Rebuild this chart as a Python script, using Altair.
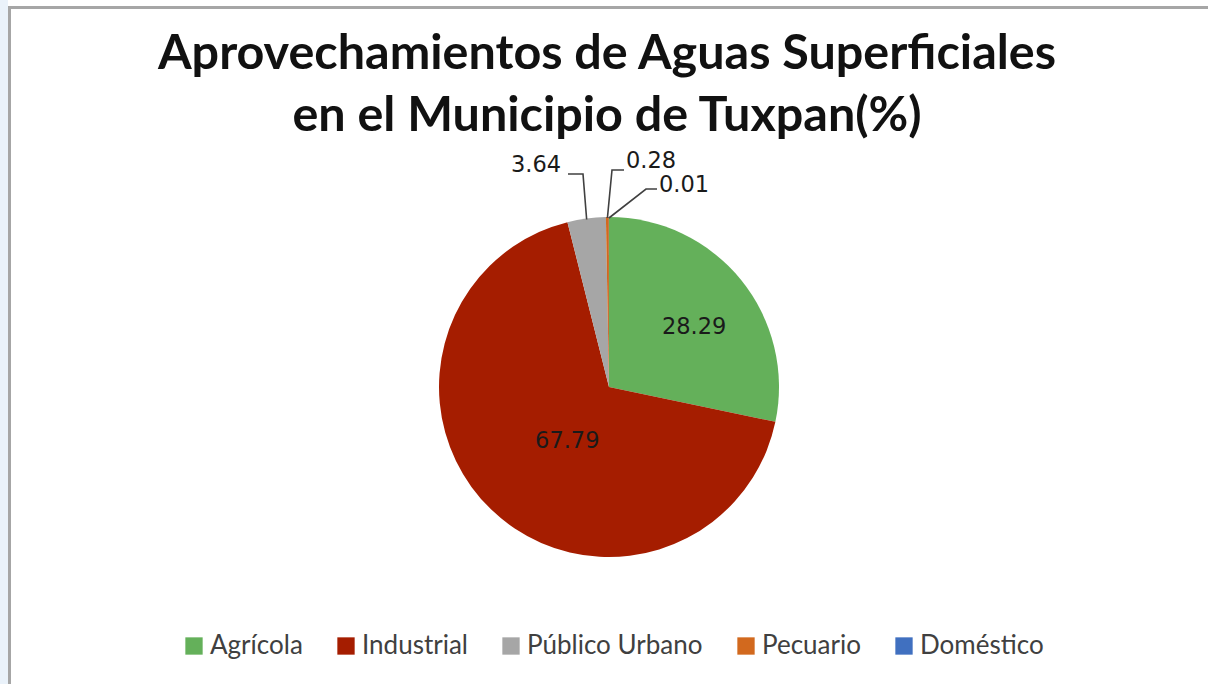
import math
import altair as alt
import pandas as pd

# ---- data ----
categories = ["Agrícola", "Industrial", "Público Urbano", "Pecuario", "Doméstico"]
values = [28.29, 67.79, 3.64, 0.28, 0.01]
labels = ["28.29", "67.79", "3.64", "0.28", "0.01"]
colors = ["#64b05a", "#a51d00", "#a6a6a6", "#d2691e", "#4070c0"]

title_lines = ["Aprovechamientos de Aguas Superficiales", "en el Municipio de Tuxpan(%)"]

# ---- layout / style ----
W, H = 1208, 684
CX, CY, R = 609, 387, 170
inner_label_r = {0: 104, 1: 68}          # radial distance of in-slice labels
inner_label_shift = {0: 4.0, 1: -6.0}     # angular shift (deg) of in-slice labels
leader_elbow = {2: (583, 174), 3: (612, 170), 4: (646, 189)}
leader_end = {2: (568, 174), 3: (624, 170), 4: (657, 189)}
outer_label_pos = {2: (536, 165), 3: (651, 161), 4: (684, 185)}

total = sum(values)
df = pd.DataFrame({"cat": categories, "value": values, "order": range(len(values)), "label": labels})

# label positions derived from slice angles
mid_angles = []
cum = 0.0
for v in values:
    mid_angles.append((cum + v / 2) / total * 360.0)
    cum += v

lab_rows, line_rows = [], []
for i, (lab, a) in enumerate(zip(labels, mid_angles)):
    if i in inner_label_r:
        ang = math.radians(a + inner_label_shift[i])
        r = inner_label_r[i]
        lab_rows.append({"label": lab, "x": CX + r * math.sin(ang), "y": CY - r * math.cos(ang)})
    else:
        ang = math.radians(a)
        sx, sy = CX + (R - 1) * math.sin(ang), CY - (R - 1) * math.cos(ang)
        pts = [(sx, sy), leader_elbow[i], leader_end[i]]
        for k, (px, py) in enumerate(pts):
            line_rows.append({"cat": categories[i], "seq": k, "x": px, "y": py})
        ox, oy = outer_label_pos[i]
        lab_rows.append({"label": lab, "x": ox, "y": oy})
lab_df = pd.DataFrame(lab_rows)
line_df = pd.DataFrame(line_rows)

# ---- layers ----
bg_strip = alt.Chart(pd.DataFrame({"a": [0]})).mark_rect(fill="#eaf2fa").encode(
    x=alt.value(0), x2=alt.value(8), y=alt.value(0), y2=alt.value(H)
)
border = alt.Chart(pd.DataFrame({"a": [0]})).mark_rect(
    fillOpacity=0, stroke="#a6a6a6", strokeWidth=3
).encode(x=alt.value(9.5), x2=alt.value(W + 20), y=alt.value(7.5), y2=alt.value(H + 20))

pie = alt.Chart(df).mark_arc(outerRadius=R, stroke="white", strokeWidth=0).encode(
    theta=alt.Theta("value:Q", stack=True),
    order=alt.Order("order:Q"),
    color=alt.Color(
        "cat:N",
        scale=alt.Scale(domain=categories, range=colors),
        sort=categories,
        legend=alt.Legend(
            title=None,
            orient="none",
            legendX=181,
            legendY=633,
            direction="horizontal",
            symbolType="square",
            symbolSize=300,
            symbolStrokeWidth=0,
            symbolOpacity=1,
            labelFont="Lato",
            labelFontSize=26,
            labelColor="#404040",
            labelOffset=3,
            columnPadding=30,
            labelLimit=400,
        ),
    ),
    x=alt.value(CX),
    y=alt.value(CY),
)

leaders = alt.Chart(line_df).mark_line(color="#404040", strokeWidth=1.6).encode(
    x=alt.X("x:Q", scale=None, axis=None),
    y=alt.Y("y:Q", scale=None, axis=None),
    detail="cat:N",
    order="seq:Q",
)

texts = alt.Chart(lab_df).mark_text(
    font="DejaVu Sans", fontSize=22.5, color="#1a1a1a", baseline="middle", align="center"
).encode(
    x=alt.X("x:Q", scale=None, axis=None),
    y=alt.Y("y:Q", scale=None, axis=None),
    text="label:N",
)

t1 = alt.Chart(pd.DataFrame({"t": [title_lines[0]]})).mark_text(
    font="Lato", fontSize=48.5, fontWeight="bold", color="#111111", baseline="alphabetic", align="center"
).encode(x=alt.value(607), y=alt.value(69), text="t:N")
t2 = alt.Chart(pd.DataFrame({"t": [title_lines[1]]})).mark_text(
    font="Lato", fontSize=48.5, fontWeight="bold", color="#111111", baseline="alphabetic", align="center"
).encode(x=alt.value(607), y=alt.value(131), text="t:N")

chart = (
    alt.layer(bg_strip, border, pie, leaders, texts, t1, t2)
    .resolve_scale(x="independent", y="independent")
    .properties(width=W, height=H, padding=0, autosize=alt.AutoSizeParams(type="none"), background="white")
    .configure_view(stroke=None)
)

chart.save("out.html", embed_options={"renderer": "svg", "actions": False})
